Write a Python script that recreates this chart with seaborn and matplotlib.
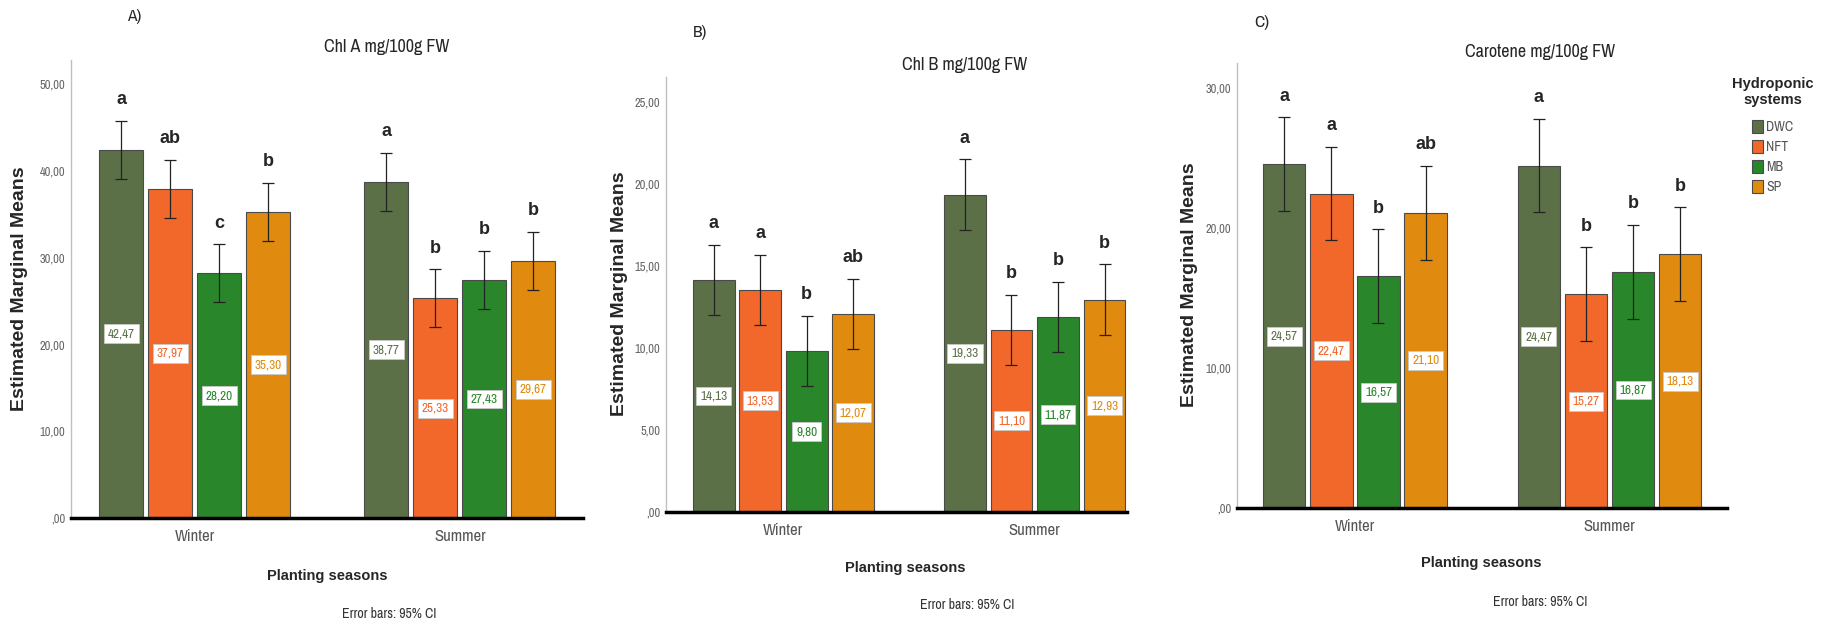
import numpy as np
import pandas as pd
import matplotlib
matplotlib.use("Agg")
import matplotlib.pyplot as plt
import seaborn as sns
from matplotlib import font_manager
from matplotlib.patches import Patch
from matplotlib.ticker import FuncFormatter

seasons = ["Winter", "Summer"]
systems = ["DWC", "NFT", "MB", "SP"]
colors = ["#5c7048", "#f2682b", "#2a862a", "#e08b10"]

# Chl A mg/100g FW  (order DWC, NFT, MB, SP)
chla_winter = [42.47, 37.97, 28.20, 35.30]
chla_summer = [38.77, 25.33, 27.43, 29.67]
chla_lo_winter = [39.13, 34.63, 24.86, 31.96]
chla_hi_winter = [45.81, 41.31, 31.54, 38.64]
chla_lo_summer = [35.43, 21.99, 24.09, 26.33]
chla_hi_summer = [42.11, 28.67, 30.77, 33.01]
chla_let_winter = ["a", "ab", "c", "b"]
chla_let_summer = ["a", "b", "b", "b"]
chla_yticks = [0, 10, 20, 30, 40, 50]

# Chl B mg/100g FW
chlb_winter = [14.13, 13.53, 9.80, 12.07]
chlb_summer = [19.33, 11.10, 11.87, 12.93]
chlb_lo_winter = [11.98, 11.38, 7.65, 9.92]
chlb_hi_winter = [16.28, 15.68, 11.95, 14.22]
chlb_lo_summer = [17.18, 8.95, 9.72, 10.78]
chlb_hi_summer = [21.48, 13.25, 14.02, 15.08]
chlb_let_winter = ["a", "a", "b", "ab"]
chlb_let_summer = ["a", "b", "b", "b"]
chlb_yticks = [0, 5, 10, 15, 20, 25]

# Carotene mg/100g FW
car_winter = [24.57, 22.47, 16.57, 21.10]
car_summer = [24.47, 15.27, 16.87, 18.13]
car_lo_winter = [21.22, 19.12, 13.22, 17.75]
car_hi_winter = [27.92, 25.82, 19.92, 24.45]
car_lo_summer = [21.12, 11.92, 13.52, 14.78]
car_hi_summer = [27.82, 18.62, 20.22, 21.48]
car_let_winter = ["a", "a", "b", "ab"]
car_let_summer = ["a", "b", "b", "b"]
car_yticks = [0, 10, 20, 30]

sns.set_style("white")

# narrow font if one is installed, otherwise plain Liberation Sans
narrow = [f.name for f in font_manager.fontManager.ttflist
          if "Narrow" in f.fname or "Condensed" in f.fname]
NARROW = sorted(set(narrow))[:1] + ["Liberation Sans", "DejaVu Sans"]
WIDE = ["Liberation Sans", "DejaVu Sans"]
plt.rcParams["font.family"] = NARROW
if narrow:
    plt.rcParams["font.stretch"] = "condensed"

W, H = 1827, 625
fig = plt.figure(figsize=(W / 100, H / 100), dpi=100)


def px(x, y):
    return x / W, 1 - y / H


def make_ax(left, top, right, bottom):
    return fig.add_axes([left / W, 1 - bottom / H, (right - left) / W, (bottom - top) / H])


def fmt(v, pos):
    return f"{v:.2f}".replace(".", ",").lstrip("0")


def draw_panel(ax, means_w, means_s, lo_w, lo_s, hi_w, hi_s, let_w, let_s, yticks, ylim, xlim):
    df = pd.DataFrame({
        "season": np.repeat(seasons, len(systems)),
        "system": systems * 2,
        "mean": means_w + means_s,
    })
    sns.barplot(data=df, x="season", y="mean", hue="system", hue_order=systems,
                palette=colors, saturation=1, width=0.74, gap=0.1, errorbar=None,
                edgecolor="#4a4a4a", linewidth=0.8, legend=False, ax=ax)
    means = [means_w, means_s]
    lows = [lo_w, lo_s]
    highs = [hi_w, hi_s]
    letters = [let_w, let_s]
    for k, cont in enumerate(list(ax.containers)):
        for bar in cont:
            x = bar.get_x() + bar.get_width() / 2
            j = int(round(x))
            m, lo, hi = means[j][k], lows[j][k], highs[j][k]
            ax.errorbar(x, m, yerr=[[m - lo], [hi - m]], fmt="none", ecolor="#222222",
                        elinewidth=0.9, capsize=4.5, capthick=0.9, zorder=4)
            ax.annotate(letters[j][k], (x, hi), xytext=(0, 12), textcoords="offset points",
                        ha="center", va="baseline", fontsize=13, fontweight="bold",
                        family=WIDE, stretch="normal")
            ax.text(x, m / 2, f"{m:.2f}".replace(".", ","), ha="center", va="center",
                    fontsize=9.5, color=colors[k], zorder=5,
                    bbox=dict(boxstyle="square,pad=0.3", fc="white", ec="#c8c8c8", lw=0.6))
    ax.set_ylim(*ylim)
    ax.set_xlim(*xlim)
    ax.set_yticks(yticks)
    ax.yaxis.set_major_formatter(FuncFormatter(fmt))
    ax.set_xlabel("")
    ax.set_ylabel("")
    ax.tick_params(axis="y", length=0, pad=4, labelsize=9, labelcolor="#666666")
    ax.tick_params(axis="x", length=0, pad=8, labelsize=12, labelcolor="#555555")
    sns.despine(ax=ax)
    ax.spines["left"].set_color("#c0c0c0")
    ax.spines["left"].set_linewidth(1.0)
    ax.spines["bottom"].set_color("black")
    ax.spines["bottom"].set_linewidth(2.5)


axA = make_ax(71, 60, 583, 518)
draw_panel(axA, chla_winter, chla_summer, chla_lo_winter, chla_lo_summer,
           chla_hi_winter, chla_hi_summer, chla_let_winter, chla_let_summer,
           chla_yticks, (0, 52.8), (-0.467, 1.465))

axB = make_ax(666, 77, 1127, 512)
draw_panel(axB, chlb_winter, chlb_summer, chlb_lo_winter, chlb_lo_summer,
           chlb_hi_winter, chlb_hi_summer, chlb_let_winter, chlb_let_summer,
           chlb_yticks, (0, 26.5), (-0.467, 1.367))

axC = make_ax(1237, 63, 1727, 508)
draw_panel(axC, car_winter, car_summer, car_lo_winter, car_lo_summer,
           car_hi_winter, car_hi_summer, car_let_winter, car_let_summer,
           car_yticks, (0, 31.8), (-0.463, 1.461))

# panel texts
panel_text = [
    ("A)", (134, 17), "Chl A mg/100g FW", (387, 47), (20, 289), (327, 576), (389, 614)),
    ("B)", (700, 33), "Chl B mg/100g FW", (965, 65), (619, 294), (905, 568), (967, 605)),
    ("C)", (1262, 23), "Carotene mg/100g FW", (1540, 52), (1190, 285), (1481, 563), (1540, 602)),
]
for tag, tag_xy, title, title_xy, ylab_xy, xlab_xy, err_xy in panel_text:
    fig.text(*px(*tag_xy), tag, fontsize=12.5, ha="center", va="center")
    fig.text(*px(*title_xy), title, fontsize=13, ha="center", va="center")
    fig.text(*px(*ylab_xy), "Estimated Marginal Means", fontsize=14, fontweight="bold",
             family=WIDE, stretch="normal", rotation=90, ha="center", va="center")
    fig.text(*px(*xlab_xy), "Planting seasons", fontsize=10.5, fontweight="bold",
             family=WIDE, stretch="normal", ha="center", va="center")
    fig.text(*px(*err_xy), "Error bars: 95% CI", fontsize=10, color="#333333",
             ha="center", va="center")

# legend
fig.text(*px(1773, 92), "Hydroponic\nsystems", fontsize=10.5, fontweight="bold",
         family=WIDE, stretch="normal", ha="center", va="center", linespacing=1.15)
handles = [Patch(facecolor=c, edgecolor="#4a4a4a", linewidth=0.8) for c in colors]
fig.legend(handles, systems, loc="upper left", bbox_to_anchor=px(1752, 120),
           frameon=False, fontsize=10, labelcolor="#555555", handlelength=0.8,
           handleheight=1.1, handletextpad=0.2, labelspacing=0.4,
           borderpad=0, borderaxespad=0)

fig.savefig("out.png", dpi=100)
